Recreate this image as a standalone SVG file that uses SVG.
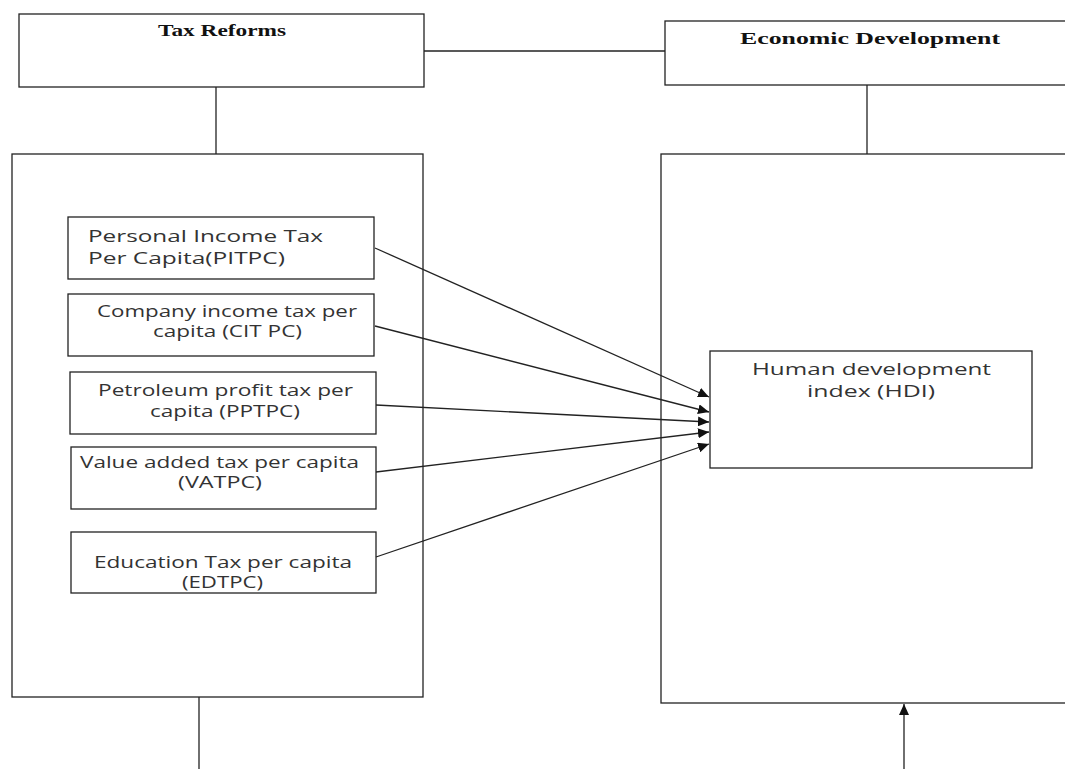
<svg xmlns="http://www.w3.org/2000/svg" width="1065" height="769" viewBox="0 0 1065 769">
  <style>
    .box { fill: #ffffff; stroke: #222222; stroke-width: 1.3; }
    .frame { fill: none; stroke: #222222; stroke-width: 1.3; }
    .line { fill: none; stroke: #222222; stroke-width: 1.3; }
    .title { font-family: "Liberation Serif", "Times New Roman", serif; font-weight: bold; font-size: 16px; fill: #111111; }
    .lbl { font-family: "Open Sans", "Liberation Sans", sans-serif; font-size: 16px; fill: #333333; }
  </style>
  <defs>
    <marker id="arrow" markerUnits="userSpaceOnUse" markerWidth="12" markerHeight="10" refX="11" refY="5" orient="auto">
      <path d="M0,0 L11,5 L0,10 z" fill="#111111"/>
    </marker>
  </defs>
  <rect width="1065" height="769" fill="#ffffff"/>

  <g id="tax-reforms">
    <rect class="box" x="19" y="14" width="405" height="73"/>
    <text class="title" x="158" y="36" textLength="128" lengthAdjust="spacingAndGlyphs">Tax Reforms</text>
  </g>

  <g id="economic-development">
    <rect class="box" x="665" y="21" width="420" height="64"/>
    <text class="title" x="740" y="44" font-size="16.5" textLength="260" lengthAdjust="spacingAndGlyphs">Economic Development</text>
  </g>

  <g id="tax-group">
    <rect class="frame" x="12" y="154" width="411" height="543"/>
  </g>

  <g id="econ-group">
    <rect class="frame" x="661" y="154" width="420" height="549"/>
  </g>

  <g id="pitpc">
    <rect class="box" x="68" y="217" width="306" height="62"/>
    <text class="lbl" x="88" y="242" textLength="235" lengthAdjust="spacingAndGlyphs">Personal Income Tax</text>
    <text class="lbl" x="88" y="264" textLength="197" lengthAdjust="spacingAndGlyphs">Per Capita(PITPC)</text>
  </g>

  <g id="citpc">
    <rect class="box" x="68" y="294" width="306" height="62"/>
    <text class="lbl" x="97" y="317" textLength="260" lengthAdjust="spacingAndGlyphs">Company income tax per</text>
    <text class="lbl" x="153" y="337" textLength="149" lengthAdjust="spacingAndGlyphs">capita (CIT PC)</text>
  </g>

  <g id="pptpc">
    <rect class="box" x="70" y="372" width="306" height="62"/>
    <text class="lbl" x="98" y="396" textLength="255" lengthAdjust="spacingAndGlyphs">Petroleum profit tax per</text>
    <text class="lbl" x="150" y="417" textLength="150" lengthAdjust="spacingAndGlyphs">capita (PPTPC)</text>
  </g>

  <g id="vatpc">
    <rect class="box" x="71" y="447" width="305" height="62"/>
    <text class="lbl" x="80" y="468" textLength="279" lengthAdjust="spacingAndGlyphs">Value added tax per capita</text>
    <text class="lbl" x="178" y="488" textLength="84" lengthAdjust="spacingAndGlyphs">(VATPC)</text>
  </g>

  <g id="edtpc">
    <rect class="box" x="71" y="532" width="305" height="61"/>
    <text class="lbl" x="94" y="568" textLength="258" lengthAdjust="spacingAndGlyphs">Education Tax per capita</text>
    <text class="lbl" x="182" y="588" textLength="81" lengthAdjust="spacingAndGlyphs">(EDTPC)</text>
  </g>

  <g id="hdi">
    <rect class="box" x="710" y="351" width="322" height="117"/>
    <text class="lbl" x="752" y="375" textLength="239" lengthAdjust="spacingAndGlyphs">Human development</text>
    <text class="lbl" x="807" y="397" textLength="128" lengthAdjust="spacingAndGlyphs">index (HDI)</text>
  </g>

  <g id="connectors">
    <line class="line" x1="424" y1="51" x2="665" y2="51"/>
    <line class="line" x1="216" y1="87" x2="216" y2="154"/>
    <line class="line" x1="867" y1="85" x2="867" y2="154"/>
    <line class="line" x1="199" y1="697" x2="199" y2="769"/>
    <line class="line" x1="904" y1="769" x2="904" y2="704" marker-end="url(#arrow)"/>
    <line class="line" x1="375" y1="248" x2="709" y2="397" marker-end="url(#arrow)"/>
    <line class="line" x1="375" y1="326" x2="709" y2="412" marker-end="url(#arrow)"/>
    <line class="line" x1="376" y1="405" x2="709" y2="422" marker-end="url(#arrow)"/>
    <line class="line" x1="376" y1="472" x2="709" y2="432" marker-end="url(#arrow)"/>
    <line class="line" x1="376" y1="557" x2="709" y2="444" marker-end="url(#arrow)"/>
  </g>
</svg>
